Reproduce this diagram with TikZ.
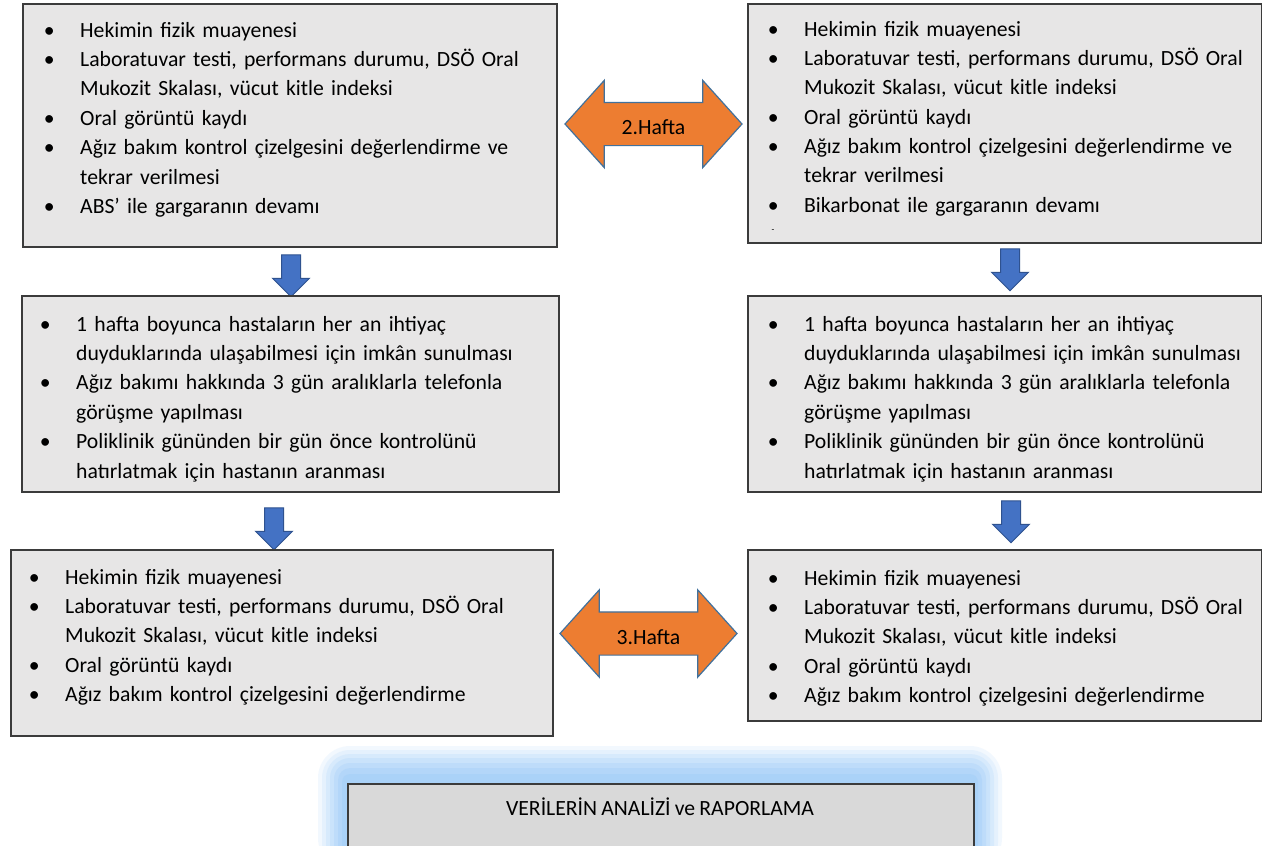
\documentclass[tikz,border=0pt]{standalone}
\usepackage{fontspec}
\setmainfont{Carlito}[WordSpace=0.85]
\usepackage{tikz}
\usetikzlibrary{shapes.arrows}
\definecolor{boxgray}{HTML}{E7E6E6}
\definecolor{boxline}{HTML}{3B3B3B}
\definecolor{lastgray}{HTML}{D9D9D9}
\definecolor{weekorange}{HTML}{ED7D31}
\definecolor{weekline}{HTML}{41719C}
\definecolor{flowblue}{HTML}{4472C4}
\definecolor{flowline}{HTML}{2F528F}
\definecolor{glowblue}{HTML}{9CCBF8}
\newlength{\bulind}
\setlength{\bulind}{31pt}
\newcommand{\itm}{\par\noindent\hangindent=\bulind\hangafter=1\strut\makebox[\bulind][l]{\makebox[0pt]{\textbullet}}}
\newcommand{\bodyfont}{\fontsize{21.7}{29.4}\selectfont}

\begin{document}
\begin{tikzpicture}[x=1pt,y=-1pt,
  stepbox/.style={draw=boxline, line width=1.8pt, fill=boxgray, anchor=north west, inner sep=0pt},
  itemlist/.style={anchor=north west, inner sep=0pt, text width=520pt, align=left, font=\bodyfont},
  weekarrow/.style={double arrow, double arrow head extend=22pt, double arrow tip angle=96,
    minimum height=177pt, fill=weekorange, draw=weekline, line width=1.2pt, font=\bodyfont,
    text height=21pt, text depth=0pt, inner xsep=0pt, inner ysep=10.5pt},
  downarrow/.style={single arrow, rotate=-90, single arrow head extend=9pt, minimum height=42pt,
    inner xsep=0pt, inner ysep=9pt, fill=flowblue, draw=flowline, line width=1pt}]
  \fill[white] (0,0) rectangle (1262,846);
  \useasboundingbox (0,0) rectangle (1262,846);
  % first visit (both groups)
  \node[stepbox, minimum width=534pt, minimum height=243pt] (hL1) at (22,3) {};
  \node[itemlist] (tL1) at (49,7.4) {\itm Hekimin fizik muayenesi
    \itm Laboratuvar testi, performans durumu, DSÖ Oral\newline Mukozit Skalası, vücut kitle indeksi
    \itm Oral görüntü kaydı
    \itm Ağız bakım kontrol çizelgesini değerlendirme ve\newline tekrar verilmesi
    \itm ABS’ ile gargaranın devamı\par};
  \node[stepbox, minimum width=514pt, minimum height=239pt] (hR1) at (747,3) {};
  \node[itemlist] (tR1) at (773,6.4) {\itm Hekimin fizik muayenesi
    \itm Laboratuvar testi, performans durumu, DSÖ Oral\newline Mukozit Skalası, vücut kitle indeksi
    \itm Oral görüntü kaydı
    \itm Ağız bakım kontrol çizelgesini değerlendirme ve\newline tekrar verilmesi
    \itm Bikarbonat ile gargaranın devamı\par};
  \node[font=\fontsize{9}{9}\selectfont, inner sep=0pt] (dR1) at (773,231) {-};
  \node[weekarrow] (w2) at (653.5,124) {2.Hafta};
  % phone follow-up
  \node[downarrow] (aL1) at (291,271) {};
  \node[downarrow] (aR1) at (1010,265) {};
  \node[stepbox, minimum width=537pt, minimum height=196pt] (hL2) at (21,295) {};
  \node[itemlist] (tL2) at (45,301.4) {\itm 1 hafta boyunca hastaların her an ihtiyaç\newline duyduklarında ulaşabilmesi için imkân sunulması
    \itm Ağız bakımı hakkında 3 gün aralıklarla telefonla\newline görüşme yapılması
    \itm Poliklinik gününden bir gün önce kontrolünü\newline hatırlatmak için hastanın aranması\par};
  \node[stepbox, minimum width=514pt, minimum height=196pt] (hR2) at (747,295) {};
  \node[itemlist] (tR2) at (773,301.4) {\itm 1 hafta boyunca hastaların her an ihtiyaç\newline duyduklarında ulaşabilmesi için imkân sunulması
    \itm Ağız bakımı hakkında 3 gün aralıklarla telefonla\newline görüşme yapılması
    \itm Poliklinik gününden bir gün önce kontrolünü\newline hatırlatmak için hastanın aranması\par};
  % last visit
  \node[downarrow] (aL2) at (274,524) {};
  \node[downarrow] (aR2) at (1011,517) {};
  \node[stepbox, minimum width=542pt, minimum height=186pt] (hL3) at (10,549) {};
  \node[itemlist] (tL3) at (34,554.4) {\itm Hekimin fizik muayenesi
    \itm Laboratuvar testi, performans durumu, DSÖ Oral\newline Mukozit Skalası, vücut kitle indeksi
    \itm Oral görüntü kaydı
    \itm Ağız bakım kontrol çizelgesini değerlendirme\par};
  \node[stepbox, minimum width=514pt, minimum height=171pt] (hR3) at (747,549) {};
  \node[itemlist] (tR3) at (773,555.4) {\itm Hekimin fizik muayenesi
    \itm Laboratuvar testi, performans durumu, DSÖ Oral\newline Mukozit Skalası, vücut kitle indeksi
    \itm Oral görüntü kaydı
    \itm Ağız bakım kontrol çizelgesini değerlendirme\par};
  \node[weekarrow] (w3) at (648.5,633.5) {3.Hafta};
  % analysis box with glow
  \fill[glowblue, opacity=.12, rounded corners=32] (318,746) rectangle (1002,870);
  \fill[glowblue, opacity=.15, rounded corners=28] (322,750) rectangle (998,870);
  \fill[glowblue, opacity=.18, rounded corners=24] (326,754) rectangle (994,870);
  \fill[glowblue, opacity=.22, rounded corners=20] (330,758) rectangle (990,870);
  \fill[glowblue, opacity=.26, rounded corners=16] (334,763) rectangle (986,870);
  \fill[glowblue, opacity=.3, rounded corners=12] (338,768) rectangle (982,870);
  \fill[glowblue, opacity=.35, rounded corners=8] (342,774) rectangle (978,870);
  \node[stepbox, fill=lastgray, minimum width=626pt, minimum height=90pt] (hV) at (347,783) {};
  \node[font=\bodyfont] (tV) at (660,807) {VERİLERİN ANALİZİ ve RAPORLAMA};
\end{tikzpicture}
\end{document}
